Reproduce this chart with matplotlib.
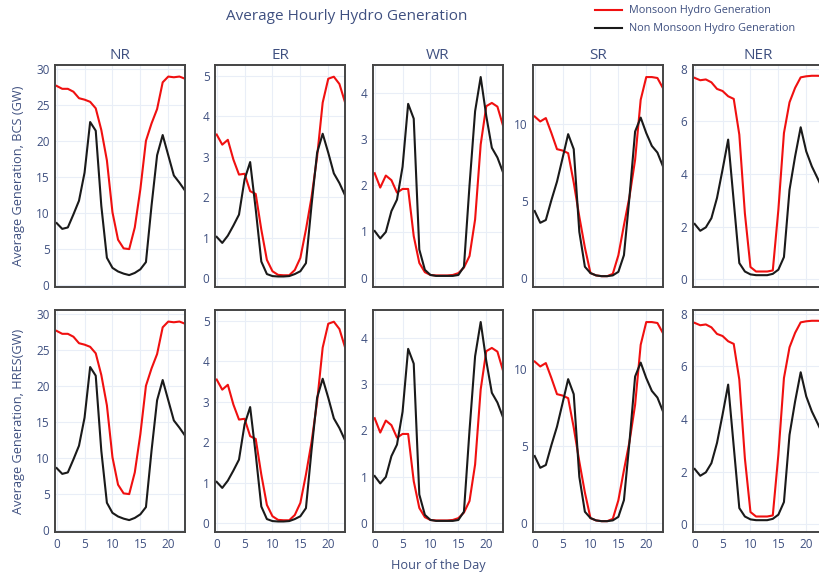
import matplotlib.pyplot as plt

plt.rcParams['font.family'] = ['Open Sans', 'DejaVu Sans']

hours = list(range(24))
regions = ['NR', 'ER', 'WR', 'SR', 'NER']

# monsoon (red) and non monsoon (black) average hourly generation, GW
nr_mon = [27.6, 27.2, 27.2, 26.8, 25.9, 25.7, 25.4, 24.5, 21.5, 17.3, 10.1, 6.3,
          5.1, 5.0, 8.0, 13.3, 20.0, 22.4, 24.4, 28.1, 28.9, 28.8, 28.9, 28.6]
nr_non = [8.6, 7.8, 8.0, 9.8, 11.7, 15.6, 22.6, 21.4, 11.0, 3.8, 2.4, 1.9,
          1.6, 1.4, 1.7, 2.2, 3.2, 11.0, 18.0, 20.8, 18.0, 15.2, 14.2, 13.1]
er_mon = [3.55, 3.3, 3.42, 2.93, 2.56, 2.58, 2.15, 2.08, 1.2, 0.45, 0.17, 0.08,
          0.07, 0.07, 0.2, 0.5, 1.2, 2.0, 3.0, 4.34, 4.93, 4.98, 4.8, 4.35]
er_non = [1.02, 0.87, 1.05, 1.3, 1.57, 2.44, 2.87, 1.7, 0.41, 0.1, 0.05, 0.04,
          0.04, 0.05, 0.1, 0.17, 0.37, 1.8, 3.1, 3.57, 3.1, 2.59, 2.35, 2.05]
wr_mon = [2.26, 1.95, 2.21, 2.11, 1.84, 1.92, 1.92, 0.9, 0.32, 0.12, 0.06, 0.05,
          0.05, 0.05, 0.06, 0.1, 0.22, 0.47, 1.26, 2.88, 3.71, 3.78, 3.7, 3.29]
wr_non = [1.01, 0.85, 0.99, 1.44, 1.69, 2.4, 3.76, 3.44, 0.61, 0.17, 0.06, 0.04,
          0.04, 0.04, 0.04, 0.06, 0.24, 2.0, 3.6, 4.34, 3.5, 2.81, 2.6, 2.28]
sr_mon = [10.47, 10.15, 10.37, 9.4, 8.36, 8.27, 8.1, 6.2, 4.0, 2.0, 0.35, 0.2,
          0.15, 0.15, 0.3, 1.5, 3.45, 5.3, 7.67, 11.55, 13.02, 13.02, 12.96, 12.3]
sr_non = [4.36, 3.6, 3.78, 5.07, 6.26, 7.78, 9.33, 8.36, 3.02, 0.76, 0.35, 0.2,
          0.15, 0.15, 0.2, 0.43, 1.51, 5.3, 9.5, 10.4, 9.4, 8.57, 8.14, 7.24]
ner_mon = [7.66, 7.57, 7.6, 7.49, 7.24, 7.16, 6.96, 6.86, 5.5, 2.5, 0.46, 0.29,
           0.29, 0.29, 0.33, 2.64, 5.56, 6.73, 7.28, 7.68, 7.72, 7.74, 7.74, 7.73]
ner_non = [2.1, 1.84, 1.97, 2.32, 3.09, 4.17, 5.31, 2.96, 0.61, 0.29, 0.18, 0.15,
           0.15, 0.15, 0.2, 0.36, 0.84, 3.4, 4.67, 5.78, 4.86, 4.29, 3.85, 3.4]

monsoon = [nr_mon, er_mon, wr_mon, sr_mon, ner_mon]
non_monsoon = [nr_non, er_non, wr_non, sr_non, ner_non]
y_ticks = [[0, 5, 10, 15, 20, 25, 30], [0, 1, 2, 3, 4, 5], [0, 1, 2, 3, 4],
           [0, 5, 10], [0, 2, 4, 6, 8]]
y_lims = [(-0.25, 30.5), (-0.22, 5.27), (-0.2, 4.6), (-0.55, 13.8), (-0.3, 8.15)]
row_labels = ['Average Generation, BCS (GW)', 'Average Generation, HRES(GW)']

txt = '#3f5080'
fig = plt.figure(figsize=(8.2, 5.77), dpi=100)

lefts = [55, 215, 373, 533, 693]
tops = [65, 310]
w, h = 130, 222
for r in range(2):
    for i in range(5):
        ax = fig.add_axes([lefts[i] / 820, 1 - (tops[r] + h) / 577, w / 820, h / 577])
        ax.plot(hours, monsoon[i], color='#f01010', lw=1.5)
        ax.plot(hours, non_monsoon[i], color='#1a1a1a', lw=1.5)
        ax.set_xlim(-0.3, 23)
        ax.set_ylim(*y_lims[i])
        ax.set_xticks([0, 5, 10, 15, 20])
        ax.set_yticks(y_ticks[i])
        ax.grid(color='#e9eef7', lw=0.8)
        ax.set_axisbelow(True)
        for s in ax.spines.values():
            s.set_color('#444444')
            s.set_linewidth(1.4)
        ax.tick_params(length=0, labelsize=8.5, colors=txt, pad=4)
        if r == 0:
            ax.set_xticklabels([])
            ax.set_title(regions[i], color=txt, fontsize=11, pad=4)
        if i == 0:
            ax.set_ylabel(row_labels[r], color=txt, fontsize=9.2, labelpad=8)

fig.text(347 / 820, 1 - 16 / 577, 'Average Hourly Hydro Generation', color=txt,
         fontsize=11, ha='center', va='center')
fig.text(438 / 820, 1 - 565 / 577, 'Hour of the Day', color=txt, fontsize=9.2,
         ha='center', va='center')

# legend
fig.add_artist(plt.Line2D([595 / 820, 622 / 820], [1 - 10 / 577, 1 - 10 / 577],
                          color='#f01010', lw=1.5))
fig.add_artist(plt.Line2D([595 / 820, 622 / 820], [1 - 28 / 577, 1 - 28 / 577],
                          color='#1a1a1a', lw=1.5))
fig.text(629 / 820, 1 - 10 / 577, 'Monsoon Hydro Generation', color=txt, fontsize=7.8,
         va='center')
fig.text(629 / 820, 1 - 28 / 577, 'Non Monsoon Hydro Generation', color=txt, fontsize=7.8,
         va='center')

fig.savefig('out.png', dpi=100)
